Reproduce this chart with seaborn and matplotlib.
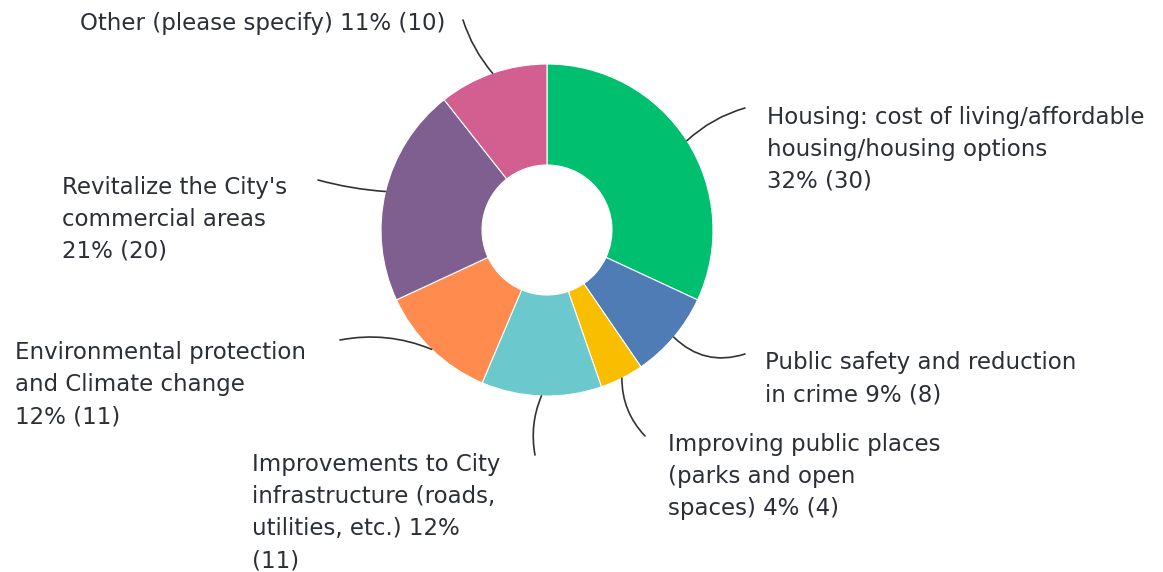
import numpy as np
import matplotlib
matplotlib.use("Agg")
import matplotlib.pyplot as plt
import seaborn as sns

# survey answers, clockwise from the top
labels = [
    "Housing: cost of living/affordable\nhousing/housing options\n32% (30)",
    "Public safety and reduction\nin crime 9% (8)",
    "Improving public places\n(parks and open\nspaces) 4% (4)",
    "Improvements to City\ninfrastructure (roads,\nutilities, etc.) 12%\n(11)",
    "Environmental protection\nand Climate change\n12% (11)",
    "Revitalize the City's\ncommercial areas\n21% (20)",
    "Other (please specify) 11% (10)",
]
counts = [30, 8, 4, 11, 11, 20, 10]
colors = ["#00BF6F", "#507CB6", "#F9BE00", "#6BC8CD", "#FF8B4F", "#7F5F90", "#D25F90"]

sns.set_theme(style="white")
plt.rcParams["font.family"] = ["DejaVu Sans"]

W, H = 1163, 572
fig = plt.figure(figsize=(W / 100, H / 100), dpi=100)
ax = fig.add_axes([0, 0, 1, 1])

cx, cy, r = 547, H - 230, 166
ax.pie(counts, colors=sns.color_palette(colors), startangle=90, counterclock=False,
       center=(cx, cy), radius=r, frame=True,
       wedgeprops=dict(width=r - 65, edgecolor="white", linewidth=0.8))
ax.set_xlim(0, W)
ax.set_ylim(0, H)
ax.set_aspect("equal")
ax.axis("off")

# label spots (top-left, pixels from top) and leader curvature
text_pos = [(767, 106), (765, 351), (668, 433), (252, 453), (15, 341), (62, 176), (80, 12)]
line_end = [(745, 108), (745, 354), (645, 436), (535, 455), (340, 340), (318, 180), (463, 20)]
rads = [0.12, -0.3, -0.2, -0.15, -0.15, 0.05, 0.1]

total = sum(counts)
cum = np.cumsum([0] + counts)
for i, lab in enumerate(labels):
    mid = (cum[i] + counts[i] / 2) / total * 360
    ang = np.deg2rad(90 - mid)
    px, py = cx + r * np.cos(ang), cy + r * np.sin(ang)
    ex, ey = line_end[i]
    ax.annotate("", xy=(px, py), xytext=(ex, H - ey),
                arrowprops=dict(arrowstyle="-", color="#333333", lw=1.2,
                                connectionstyle=f"arc3,rad={rads[i]}",
                                shrinkA=0, shrinkB=0))
    tx, ty = text_pos[i]
    ax.text(tx, H - ty, lab, ha="left", va="top", fontsize=16.5,
            color="#2b2f36", linespacing=1.5)

fig.savefig("out.png", dpi=100)
